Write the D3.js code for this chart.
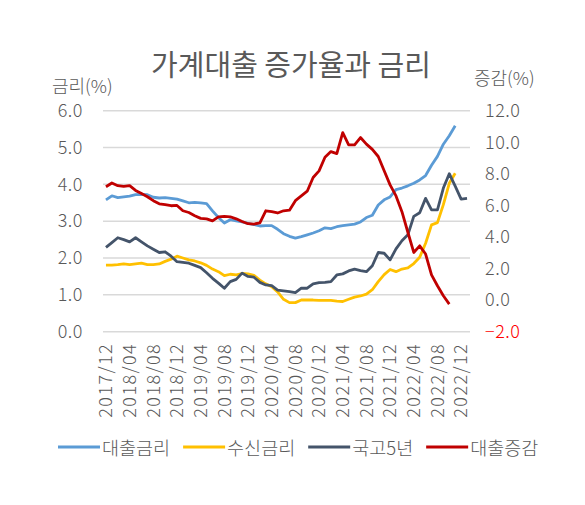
<!DOCTYPE html>
<html>
<head>
<meta charset="utf-8">
<script src="https://cdn.jsdelivr.net/npm/d3@7"></script>
<style>
  body { margin: 0; background: #fff; }
  svg text { font-family: "Noto Sans CJK KR", "Noto Sans", sans-serif; font-weight: 300; }
</style>
</head>
<body>
<div id="chart"></div>
<script>
// months 2017/12 .. 2023/01
var months = [];
for (var y = 2017, m = 12; y < 2023 || (y == 2023 && m <= 1); ) {
	months.push(y + '/' + (m < 10 ? '0' + m : m));
	m++;
	if (m > 12) { m = 1; y++; }
}

var tickLabels = ['2017/12','2018/04','2018/08','2018/12','2019/04','2019/08','2019/12','2020/04',
	'2020/08','2020/12','2021/04','2021/08','2021/12','2022/04','2022/08','2022/12'];

var leftTicks = [0, 1, 2, 3, 4, 5, 6];
var rightTicks = [-2, 0, 2, 4, 6, 8, 10, 12];

// 대출금리 (to 2022/11)
var loanRate = [3.58,3.69,3.64,3.66,3.68,3.72,3.73,3.72,3.65,3.63,3.64,3.62,3.60,3.55,3.50,3.51,
	3.50,3.48,3.28,3.10,2.95,3.04,3.01,2.98,2.94,2.91,2.87,2.88,2.88,2.78,2.66,2.59,
	2.54,2.58,2.63,2.68,2.74,2.82,2.80,2.85,2.88,2.90,2.92,2.98,3.10,3.16,3.44,3.58,
	3.66,3.86,3.90,3.96,4.03,4.12,4.24,4.52,4.76,5.09,5.32,5.59];

// 수신금리 (to 2022/11)
var depositRate = [1.81,1.81,1.82,1.84,1.82,1.84,1.86,1.82,1.82,1.84,1.91,1.97,2.05,2.00,1.95,1.92,
	1.87,1.80,1.70,1.63,1.52,1.56,1.54,1.58,1.57,1.53,1.40,1.30,1.22,1.08,0.88,0.79,
	0.79,0.86,0.86,0.86,0.85,0.85,0.85,0.83,0.82,0.88,0.94,0.97,1.02,1.14,1.36,1.55,
	1.69,1.63,1.70,1.73,1.85,2.02,2.40,2.90,2.96,3.45,4.03,4.30];

// 국고5년 (to 2023/01)
var bond5y = [2.29,2.42,2.55,2.50,2.44,2.55,2.44,2.33,2.24,2.15,2.17,2.05,1.90,1.88,1.86,1.80,
	1.74,1.60,1.45,1.32,1.18,1.36,1.42,1.59,1.50,1.48,1.34,1.27,1.25,1.13,1.11,1.09,
	1.06,1.18,1.18,1.30,1.33,1.34,1.36,1.54,1.57,1.65,1.70,1.66,1.63,1.79,2.15,2.13,
	1.95,2.25,2.47,2.63,3.13,3.23,3.62,3.31,3.31,3.90,4.29,3.95,3.60,3.62];

// 대출증감 (right axis, to 2022/10)
var loanGrowth = [7.18,7.42,7.25,7.20,7.25,6.95,6.75,6.55,6.30,6.10,6.05,5.98,6.00,5.66,5.55,5.35,
	5.18,5.15,5.02,5.28,5.30,5.28,5.15,4.98,4.84,4.82,4.90,5.66,5.60,5.52,5.66,5.70,
	6.30,6.60,6.90,7.77,8.19,9.05,9.41,9.28,10.61,9.84,9.84,10.30,9.88,9.55,9.10,8.20,
	7.30,6.60,5.60,4.30,3.02,3.44,2.92,1.60,0.91,0.28,-0.25];

var series = [
	{ name: '대출금리', values: loanRate, color: '#5B9BD5', axis: 'left' },
	{ name: '수신금리', values: depositRate, color: '#FFC000', axis: 'left' },
	{ name: '국고5년', values: bond5y, color: '#44546A', axis: 'left' },
	{ name: '대출증감', values: loanGrowth, color: '#C00000', axis: 'right' }
];

var width = 585, height = 505;
var plotLeft = 103, plotRight = 470, plotTop = 110.7, plotBottom = 331.7;

var svg = d3.select('#chart').append('svg')
	.attr('width', width)
	.attr('height', height);

var x = d3.scaleBand().domain(months).range([plotLeft, plotRight]).padding(0);
var yL = d3.scaleLinear().domain([0, 6]).range([plotBottom, plotTop]);
var yR = d3.scaleLinear().domain([-2, 12]).range([plotBottom, plotTop]);
function cx(i) { return x(months[i]) + x.bandwidth() / 2; }

// title
svg.append('text')
	.attr('x', 291).attr('y', 63)
	.attr('text-anchor', 'middle')
	.attr('dominant-baseline', 'central')
	.style('font-size', '29px')
	.style('font-weight', 400)
	.style('fill', '#595959')
	.text('가계대출 증가율과 금리');

// axis titles
svg.append('text')
	.attr('x', 52).attr('y', 85)
	.attr('dominant-baseline', 'central')
	.style('font-size', '18px').style('fill', '#595959')
	.text('금리(%)');
svg.append('text')
	.attr('x', 474).attr('y', 77)
	.attr('dominant-baseline', 'central')
	.style('font-size', '18px').style('fill', '#595959')
	.text('증감(%)');

// gridlines
svg.append('g').selectAll('line')
	.data(leftTicks)
	.enter().append('line')
	.attr('x1', plotLeft).attr('x2', plotRight)
	.attr('y1', function(d) { return yL(d); })
	.attr('y2', function(d) { return yL(d); })
	.style('stroke', '#d9d9d9')
	.style('stroke-width', 1.5);

// left axis
var axL = svg.append('g')
	.attr('transform', 'translate(' + (plotLeft - 20) + ',0)')
	.call(d3.axisLeft(yL).tickValues(leftTicks).tickFormat(d3.format('.1f')).tickSize(0).tickPadding(0));
axL.select('.domain').remove();
axL.selectAll('text')
	.style('font-size', '18px').style('letter-spacing', '0.5px').style('fill', '#595959');

// right axis
var axR = svg.append('g')
	.attr('transform', 'translate(485,0)')
	.call(d3.axisRight(yR).tickValues(rightTicks).tickFormat(d3.format('.1f')).tickSize(0).tickPadding(0));
axR.select('.domain').remove();
axR.selectAll('text')
	.style('font-size', '18px').style('letter-spacing', '0.5px')
	.style('fill', function(d) { return d < 0 ? '#FF0000' : '#595959'; });

// x labels
svg.append('g').selectAll('text')
	.data(tickLabels)
	.enter().append('text')
	.attr('transform', function(d) { return 'translate(' + cx(months.indexOf(d)) + ',343) rotate(-90)'; })
	.attr('text-anchor', 'end')
	.attr('dy', '0.35em')
	.style('font-size', '18px')
	.style('letter-spacing', '1.4px')
	.style('fill', '#595959')
	.text(function(d) { return d; });

// lines
series.forEach(function(s) {
	var yy = s.axis == 'left' ? yL : yR;
	var line = d3.line()
		.x(function(d, i) { return cx(i); })
		.y(function(d) { return yy(d); });
	svg.append('path')
		.datum(s.values)
		.attr('d', line)
		.style('fill', 'none')
		.style('stroke', s.color)
		.style('stroke-width', 2.8)
		.style('stroke-linejoin', 'round');
});

// legend
var lx = 58, ly = 447;
series.forEach(function(s) {
	svg.append('line')
		.attr('x1', lx).attr('x2', lx + 42)
		.attr('y1', ly).attr('y2', ly)
		.style('stroke', s.color).style('stroke-width', 3);
	var t = svg.append('text')
		.attr('x', lx + 44).attr('y', ly)
		.attr('dominant-baseline', 'central')
		.style('font-size', '18.5px').style('fill', '#595959')
		.text(s.name);
	lx += 44 + t.node().getComputedTextLength() + 13;
});
</script>
</body>
</html>
